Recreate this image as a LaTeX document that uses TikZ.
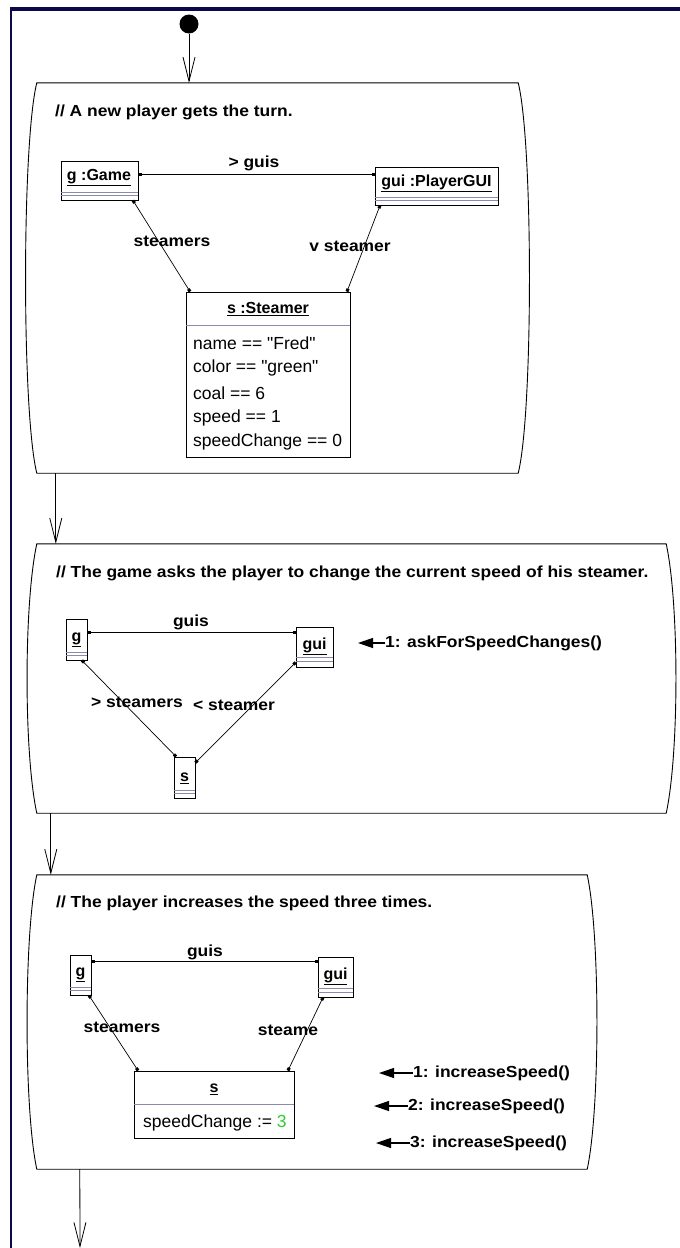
\documentclass[tikz,border=0pt]{standalone}
\usepackage{fontspec}
\setmainfont{Liberation Sans}
\newfontfamily\lblfont[FakeStretch=1.09]{Liberation Sans}
\newfontfamily\objfont[FakeStretch=1.0]{Liberation Sans}
\usetikzlibrary{arrows.meta,calc}
\definecolor{navy}{HTML}{0A0A4A}
\definecolor{sepc}{HTML}{8A8AAA}
\definecolor{grn}{HTML}{33CC33}
\tikzset{
  lbl/.style={font=\lblfont\bfseries\fontsize{16}{19}\selectfont, inner sep=0pt},
  oname/.style={font=\objfont\bfseries\fontsize{16}{19}\selectfont, inner sep=0pt},
  attr/.style={font=\fontsize{17.5}{20}\selectfont, inner sep=0pt, anchor=west},
  obj/.style={draw, line width=0.9pt, inner sep=0pt},
  stbox/.style={inner sep=0pt},
  stateline/.style={draw, line width=0.9pt},
  sepline/.style={draw=sepc, line width=0.9pt},
  assoc/.style={draw, line width=0.7pt, {Square[length=3pt,width=3pt]}-{Square[length=3pt,width=3pt]}},
  flow/.style={draw, line width=0.8pt, -{Straight Barb[length=24pt,width=12pt]}},
  msg/.style={draw, line width=1.2pt, -{Triangle[length=15pt,width=10pt]}},
}
\newcommand{\actshape}[2]{%
  \draw[stateline] (#1.north west) -- (#1.north east)
    .. controls ($(#1.north east)+(#2,60)$) and ($(#1.south east)+(#2,-60)$) .. (#1.south east)
    -- (#1.south west)
    .. controls ($(#1.south west)+(-#2,-60)$) and ($(#1.north west)+(-#2,60)$) .. cycle;}
\begin{document}
\begin{tikzpicture}[x=1pt,y=-1pt]
\useasboundingbox (0,0) rectangle (680,1248);
\fill[white] (0,0) rectangle (680,1248);
% frame
\fill[navy] (10,7) rectangle (680,10.5);
\fill[navy] (9.5,7) rectangle (11.5,1248);

\node[circle, fill=black, minimum size=19pt, inner sep=0pt] (start) at (189,24) {};

% ---------- state 1
\node[stbox, minimum width=481pt, minimum height=390pt] (st1) at (277.5,278) {};
\actshape{st1}{15}
\node[lbl, anchor=west] (c1) at (55,112) {// A new player gets the turn.};

\node[obj, minimum width=77pt, minimum height=39pt] (g1) at (99.5,180.5) {};
\node[oname] (g1n) at (99,178) {\underline{g :Game}};
\draw[sepline] ([yshift=8pt]g1.south west) -- ([yshift=8pt]g1.south east);
\draw[sepline] ([yshift=5pt]g1.south west) -- ([yshift=5pt]g1.south east);

\node[obj, minimum width=123pt, minimum height=38pt] (gui1) at (436.5,186) {};
\node[oname] (gui1n) at (436.5,183) {\underline{gui :PlayerGUI}};
\draw[sepline] ([yshift=8pt]gui1.south west) -- ([yshift=8pt]gui1.south east);
\draw[sepline] ([yshift=5pt]gui1.south west) -- ([yshift=5pt]gui1.south east);

\node[obj, minimum width=164pt, minimum height=165pt] (s1) at (268,374.5) {};
\node[oname] (s1n) at (268,309) {\underline{s :Steamer}};
\draw[sepline] (186,325) -- (350,325);
\node[attr] (a1) at (193,343) {name == \textquotedbl Fred\textquotedbl};
\node[attr] (a2) at (193,368) {color == \textquotedbl green\textquotedbl};
\node[attr] (a3) at (193,393) {coal == 6};
\node[attr] (a4) at (193,418) {speed == 1};
\node[attr] (a5) at (193,442) {speedChange == 0};

\coordinate (e1a) at ([yshift=6.5pt]g1.east);
\draw[assoc] (e1a) -- (e1a -| gui1.west);
\draw[assoc] ([xshift=33.5pt]g1.south) -- ([xshift=-78pt]s1.north);
\draw[assoc] ([xshift=-56.5pt]gui1.south) -- ([xshift=79pt]s1.north);
\node[lbl] (l1) at (254,163) {> guis};
\node[lbl] (l2) at (172,241) {steamers};
\node[lbl] (l3) at (350,246) {v steamer};

\draw[flow] (start) -- (start |- st1.north);

% ---------- state 2
\node[stbox, minimum width=629pt, minimum height=269pt] (st2) at (351.5,678.5) {};
\actshape{st2}{13}
\node[lbl, anchor=west] (c2) at (56,573) {// The game asks the player to change the current speed of his steamer.};
\draw[flow] ([xshift=19pt]st1.south west) -- ([xshift=19pt]st2.north west);

\node[obj, minimum width=21pt, minimum height=41pt] (g2) at (76.5,639.5) {};
\node[oname] (g2n) at (76.5,640) {\underline{g}};
\draw[sepline] ([yshift=8pt]g2.south west) -- ([yshift=8pt]g2.south east);
\draw[sepline] ([yshift=5pt]g2.south west) -- ([yshift=5pt]g2.south east);

\node[obj, minimum width=37pt, minimum height=40pt] (gui2) at (314.5,647) {};
\node[oname] (gui2n) at (314.5,646) {\underline{gui}};
\draw[sepline] ([yshift=10pt]gui2.south west) -- ([yshift=10pt]gui2.south east);
\draw[sepline] ([yshift=6pt]gui2.south west) -- ([yshift=6pt]gui2.south east);

\node[obj, minimum width=21pt, minimum height=41pt] (s2) at (184.5,777.5) {};
\node[oname] (s2n) at (184.5,778) {\underline{s}};
\draw[sepline] ([yshift=8pt]s2.south west) -- ([yshift=8pt]s2.south east);
\draw[sepline] ([yshift=5pt]s2.south west) -- ([yshift=5pt]s2.south east);

\coordinate (e2a) at ([yshift=7.5pt]g2.east);
\draw[assoc] (e2a) -- (e2a -| gui2.west);
\draw[assoc] ([xshift=5.5pt]g2.south) -- ([xshift=-8.5pt]s2.north);
\draw[assoc] ([yshift=5pt]gui2.south west) -- ([yshift=-6pt]s2.north east);
\node[lbl] (l4) at (191,622) {guis};
\node[lbl] (l5) at (137,702) {> steamers};
\node[lbl] (l6) at (234,705) {< steamer};

\node[lbl, anchor=west] (m21) at (385,643) {1: askForSpeedChanges()};
\coordinate (m21e) at (358,643);
\draw[msg] (m21.west) -- (m21e);

% ---------- state 3
\node[stbox, minimum width=550pt, minimum height=294pt] (st3) at (312,1022) {};
\actshape{st3}{13}
\node[lbl, anchor=west] (c3) at (56,903) {// The player increases the speed three times.};
\draw[flow] ([xshift=14pt]st2.south west) -- ([xshift=14pt]st3.north west);

\node[obj, minimum width=21pt, minimum height=40pt] (g3) at (80.5,975) {};
\node[oname] (g3n) at (80.5,975) {\underline{g}};
\draw[sepline] ([yshift=8pt]g3.south west) -- ([yshift=8pt]g3.south east);
\draw[sepline] ([yshift=5pt]g3.south west) -- ([yshift=5pt]g3.south east);

\node[obj, minimum width=35pt, minimum height=40pt] (gui3) at (335.5,977) {};
\node[oname] (gui3n) at (335.5,976) {\underline{gui}};
\draw[sepline] ([yshift=9pt]gui3.south west) -- ([yshift=9pt]gui3.south east);
\draw[sepline] ([yshift=5pt]gui3.south west) -- ([yshift=5pt]gui3.south east);

\node[obj, minimum width=160pt, minimum height=67pt] (s3) at (214,1104.5) {};
\node[oname] (s3n) at (214,1089) {\underline{s}};
\draw[sepline] (134,1104) -- (294,1104);
\node[attr] (a6) at (143,1123) {speedChange := \textcolor{grn}{3}};

\coordinate (e3a) at ([yshift=14pt]g3.east);
\draw[assoc] (e3a) -- (e3a -| gui3.west);
\draw[assoc] ([xshift=8.5pt]g3.south) -- ([xshift=-76pt]s3.north);
\draw[assoc] ([xshift=-12.5pt]gui3.south) -- ([xshift=74pt]s3.north);
\node[lbl] (l7) at (205,952) {guis};
\node[lbl] (l8) at (122,1027) {steamers};
\node[lbl] (l9) at (288,1030) {steame};

\node[lbl, anchor=west] (m31) at (413,1073) {1: increaseSpeed()};
\coordinate (m31e) at (379,1073);
\draw[msg] (m31.west) -- (m31e);
\node[lbl, anchor=west] (m32) at (408,1106) {2: increaseSpeed()};
\coordinate (m32e) at (374,1106);
\draw[msg] (m32.west) -- (m32e);
\node[lbl, anchor=west] (m33) at (410,1143) {3: increaseSpeed()};
\coordinate (m33e) at (376,1143);
\draw[msg] (m33.west) -- (m33e);

\coordinate (endp) at (80,1248);
\draw[flow] ([xshift=43pt]st3.south west) -- (endp);
\end{tikzpicture}
\end{document}
